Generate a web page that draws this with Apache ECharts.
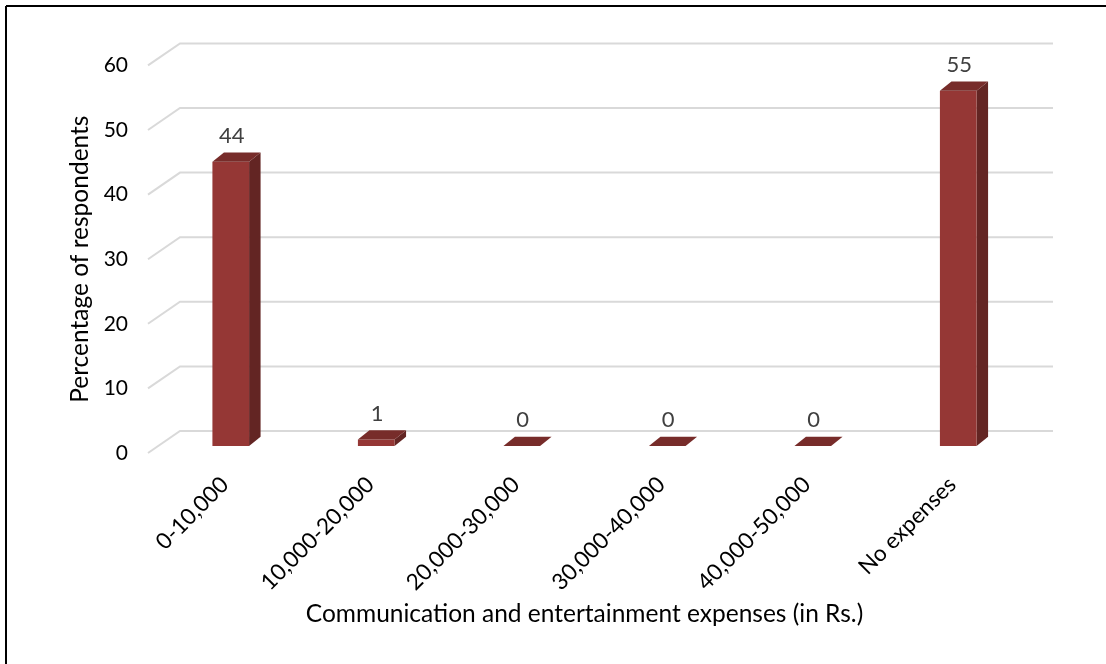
<!DOCTYPE html>
<html>
<head>
<meta charset="utf-8">
<script src="https://cdn.jsdelivr.net/npm/echarts@6/dist/echarts.min.js"></script>
<style>
  html, body { margin: 0; padding: 0; background: #fff; }
  #chart { width: 1106px; height: 664px; }
</style>
</head>
<body>
<div id="chart"></div>
<script>
// Communication and entertainment expenses, share of respondents (%)
const categories = ['0-10,000', '10,000-20,000', '20,000-30,000', '30,000-40,000', '40,000-50,000', 'No expenses'];
const shares = [44, 1, 0, 0, 0, 55];
const yTicks = [0, 10, 20, 30, 40, 50, 60];

const FONT = 'Lato';
// oblique depth of the bars and of the floor/back wall
const DX = 11.5, DY = -9.3;

const chart = echarts.init(document.getElementById('chart'));

function renderWall(params, api) {
  const cs = params.coordSys;
  const y = api.coord([0, api.value(1)])[1];
  const x0 = cs.x;
  return {
    type: 'polyline',
    shape: { points: [[x0 - 10, y + 7], [x0 + 22, y - 15], [x0 + cs.width + 22, y - 15]] },
    style: { stroke: '#d9d9d9', lineWidth: 2, fill: null }
  };
}

function renderBar(params, api) {
  const v = api.value(1);
  const p = api.coord([api.value(0), v]);
  const b = api.coord([api.value(0), 0]);
  const w = api.size([1, 0])[0] * 0.252;
  const l = p[0] - w / 2, r = p[0] + w / 2, t = p[1], bt = b[1];
  return {
    type: 'group',
    children: [
      {
        type: 'polygon',
        shape: { points: [[r, bt], [r + DX, bt + DY], [r + DX, t + DY], [r, t]] },
        style: { fill: '#632523' }
      },
      {
        type: 'rect',
        shape: { x: l, y: t, width: w, height: Math.max(bt - t, 0) },
        style: { fill: '#953735' }
      },
      {
        type: 'polygon',
        shape: { points: [[l, t], [l + DX, t + DY], [r + DX, t + DY], [r, t]] },
        style: { fill: '#772c2a' }
      },
      {
        type: 'text',
        style: {
          text: String(v), x: p[0] + 1, y: t + DY - 16.5,
          align: 'center', verticalAlign: 'middle',
          fill: '#404040', fontSize: 22, fontFamily: FONT
        }
      }
    ]
  };
}

chart.setOption({
  backgroundColor: '#fff',
  animation: false,
  graphic: [
    { type: 'line', shape: { x1: 6, y1: 6, x2: 6, y2: 664 }, style: { stroke: '#000', lineWidth: 2 } },
    { type: 'line', shape: { x1: 6, y1: 6, x2: 1106, y2: 6 }, style: { stroke: '#000', lineWidth: 2 } }
  ],
  grid: [
    // plane of the bar fronts
    { left: 158, top: 58.4, width: 873, height: 387.6 },
    // front edge of the floor
    { left: 148, top: 65.4, width: 873, height: 387.6 },
    // category label row
    { left: 152, top: 65.4, width: 873, height: 387.6 }
  ],
  xAxis: [
    {
      type: 'category', gridIndex: 0, data: categories,
      axisLine: { show: false }, axisTick: { show: false }, axisLabel: { show: false }
    },
    {
      type: 'category', gridIndex: 1, data: categories,
      axisLine: { show: false }, axisTick: { show: false }, axisLabel: { show: false },
      name: 'Communication and entertainment expenses (in Rs.)',
      nameLocation: 'middle', nameGap: 149,
      nameTextStyle: { fontSize: 24.5, fontFamily: FONT, color: '#000' }
    },
    {
      type: 'category', gridIndex: 2, data: categories,
      axisLine: { show: false }, axisTick: { show: false },
      axisLabel: { rotate: 45, margin: 28, interval: 0, fontSize: 22.5, fontFamily: FONT, color: '#000' }
    }
  ],
  yAxis: [
    {
      type: 'value', gridIndex: 0, min: 0, max: 60, interval: 10,
      axisLine: { show: false }, axisTick: { show: false },
      axisLabel: { show: false }, splitLine: { show: false }
    },
    {
      type: 'value', gridIndex: 1, min: 0, max: 60, interval: 10,
      axisLine: { show: false }, axisTick: { show: false }, splitLine: { show: false },
      axisLabel: { margin: 20, fontSize: 21, fontFamily: FONT, color: '#000' },
      name: 'Percentage of respondents', nameLocation: 'middle', nameGap: 55,
      nameTextStyle: { fontSize: 24.5, fontFamily: FONT, color: '#000' }
    },
    {
      type: 'value', gridIndex: 2, min: 0, max: 60, interval: 10, show: false
    }
  ],
  series: [
    {
      type: 'custom', xAxisIndex: 0, yAxisIndex: 0, clip: false, z: 1,
      data: yTicks.map(v => [0, v]),
      renderItem: renderWall
    },
    {
      type: 'custom', xAxisIndex: 0, yAxisIndex: 0, clip: false, z: 2,
      data: categories.map((c, i) => [i, shares[i]]),
      renderItem: renderBar
    }
  ]
});
</script>
</body>
</html>
